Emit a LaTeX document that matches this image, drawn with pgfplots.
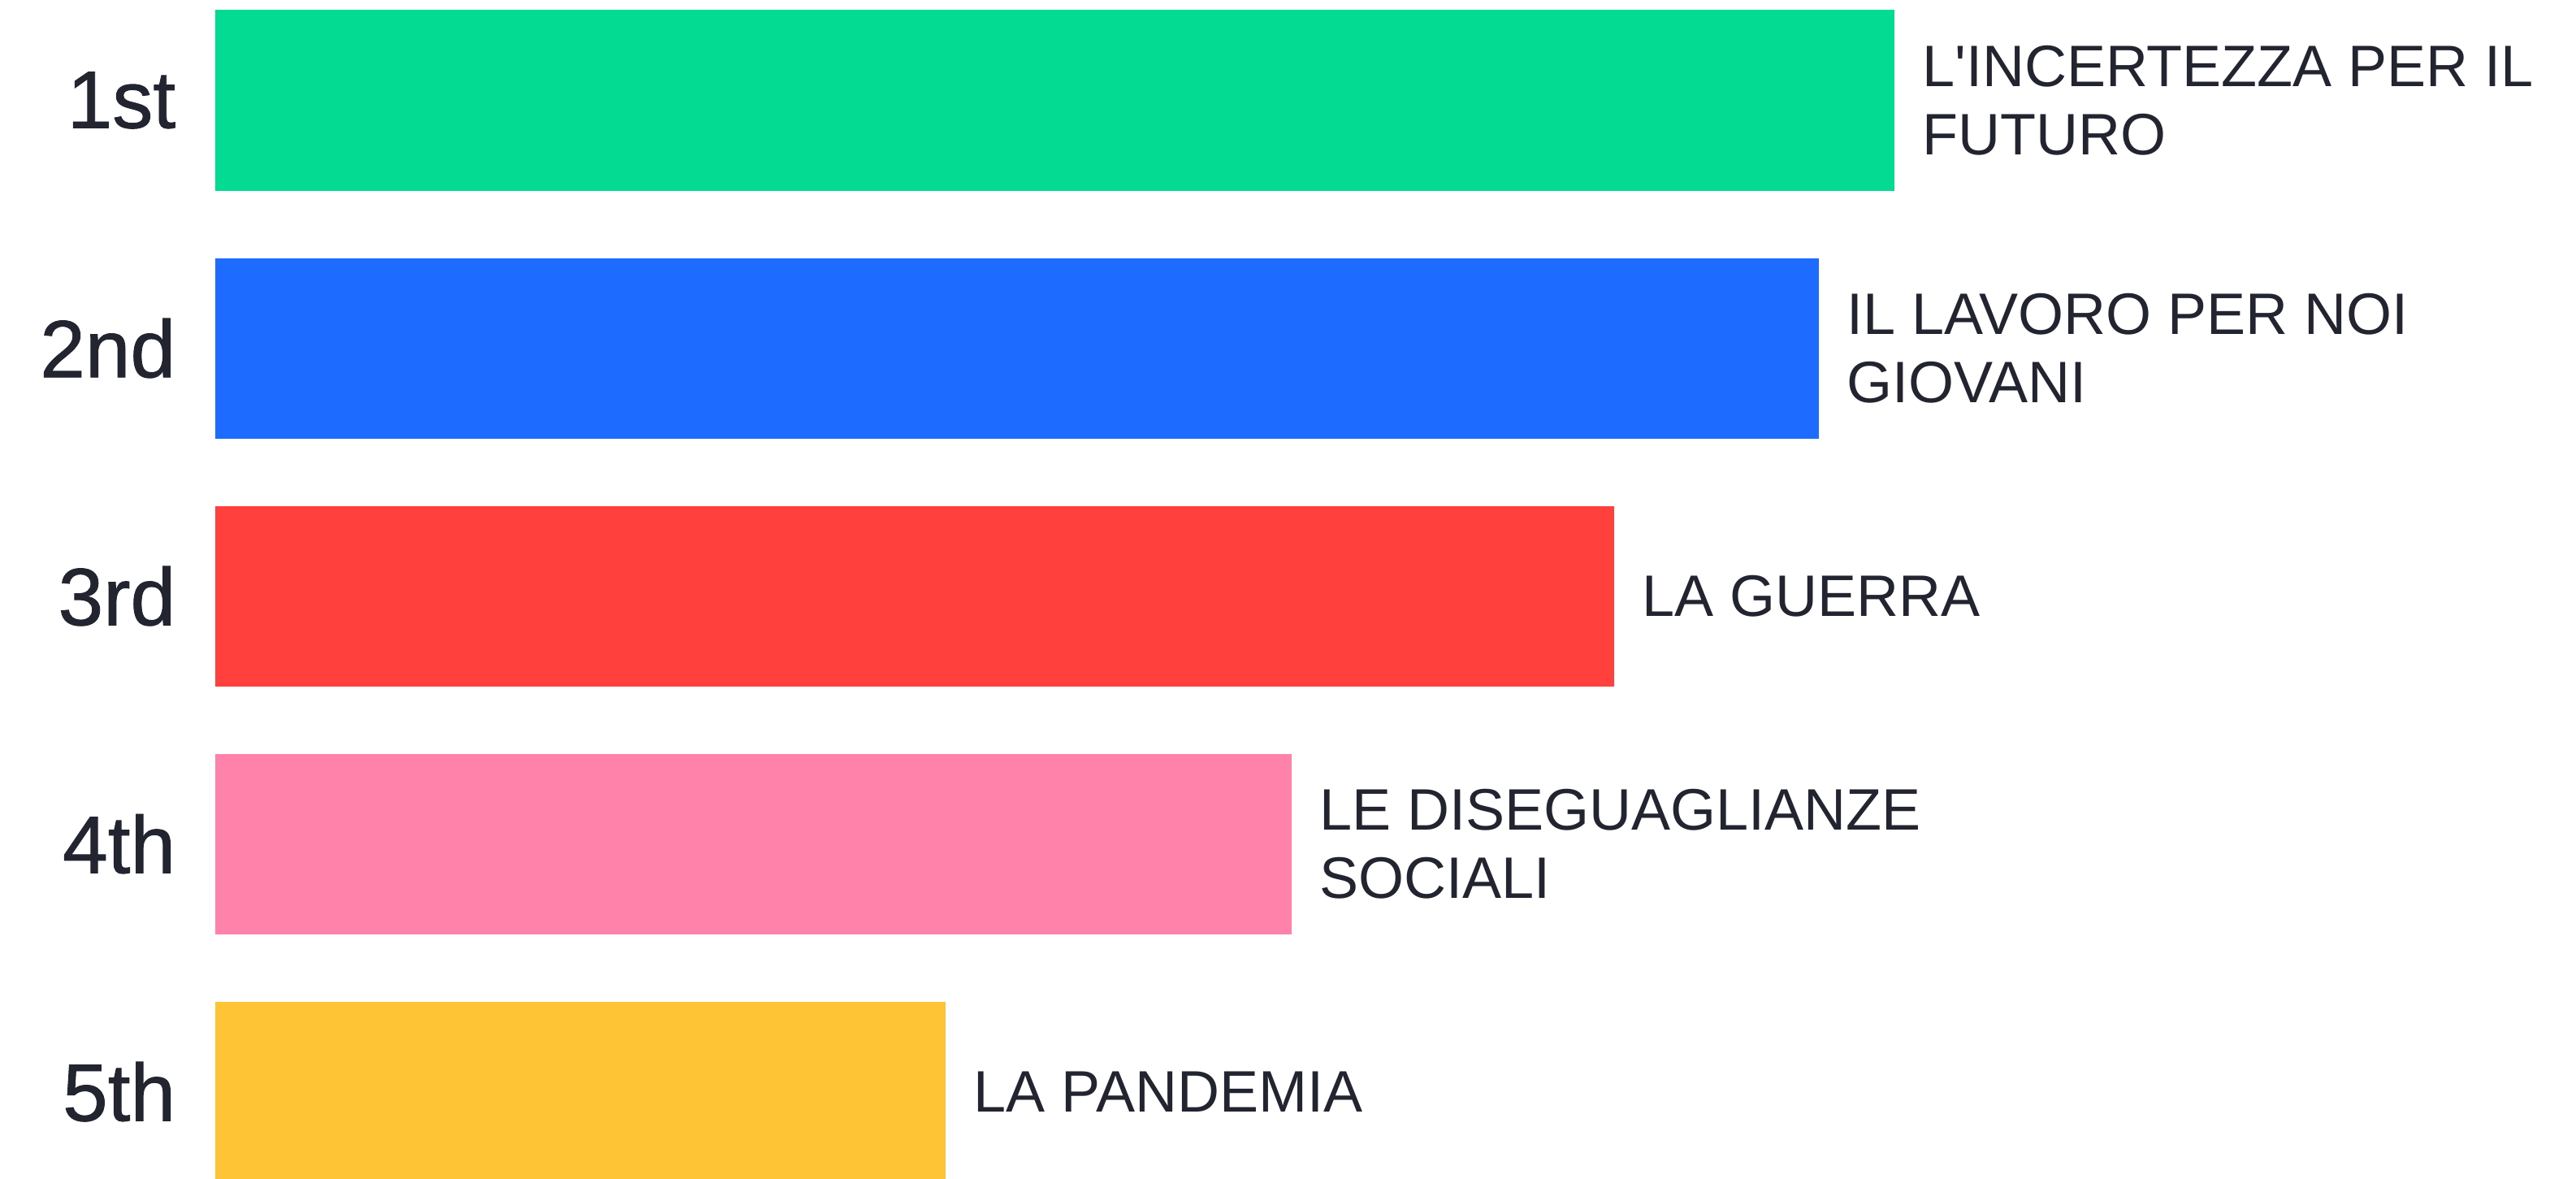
\documentclass[border=0pt]{standalone}
\usepackage{fontspec}
\setmainfont{Liberation Sans}
\newfontfamily\labfont{Liberation Sans}
\newfontfamily\rankfont{Liberation Sans}[FakeBold=0.9]
\usepackage{pgfplots}
\pgfplotsset{compat=1.18}
\definecolor{txt}{HTML}{222530}
\definecolor{cgreen}{HTML}{02DB91}
\definecolor{cblue}{HTML}{1D6CFF}
\definecolor{cred}{HTML}{FF403D}
\definecolor{cpink}{HTML}{FF82AA}
\definecolor{cyellow}{HTML}{FEC436}
\begin{document}
\begin{tikzpicture}
\begin{axis}[
  at={(0,0)}, anchor=south west,
  scale only axis,
  width=792.75pt, height=362.75pt,
  xmin=-12.82, xmax=140.59,
  ymin=-0.405, ymax=4.352,
  y dir=reverse,
  xbar, bar width=0.728, bar shift=0pt,
  axis line style={draw=none},
  tick style={draw=none},
  xtick=\empty,
  ytick={0,1,2,3,4},
  yticklabels={1st,2nd,3rd,4th,5th},
  yticklabel style={anchor=east, inner sep=0pt, xshift=58.5pt, font=\rankfont\fontsize{25}{30}\selectfont, text=txt},
  point meta=explicit symbolic,
  nodes near coords,
  every node near coord/.append style={anchor=west, inner sep=0pt, xshift=8.4pt, align=left, text=txt, font=\labfont\fontsize{18}{21}\selectfont},
  clip=true,
]
\addplot[fill=cgreen, draw=none] coordinates {(100,0) [{L'INCERTEZZA PER IL\\FUTURO}]};
\addplot[fill=cblue, draw=none] coordinates {(95.5,1) [{IL LAVORO PER NOI\\GIOVANI}]};
\addplot[fill=cred, draw=none] coordinates {(83.3,2) [{LA GUERRA}]};
\addplot[fill=cpink, draw=none] coordinates {(64.1,3) [{LE DISEGUAGLIANZE\\SOCIALI}]};
\addplot[fill=cyellow, draw=none] coordinates {(43.5,4) [{LA PANDEMIA}]};
\end{axis}
\pgfresetboundingbox
\useasboundingbox (0,0) rectangle (792.75pt,362.75pt);
\end{tikzpicture}
\end{document}
